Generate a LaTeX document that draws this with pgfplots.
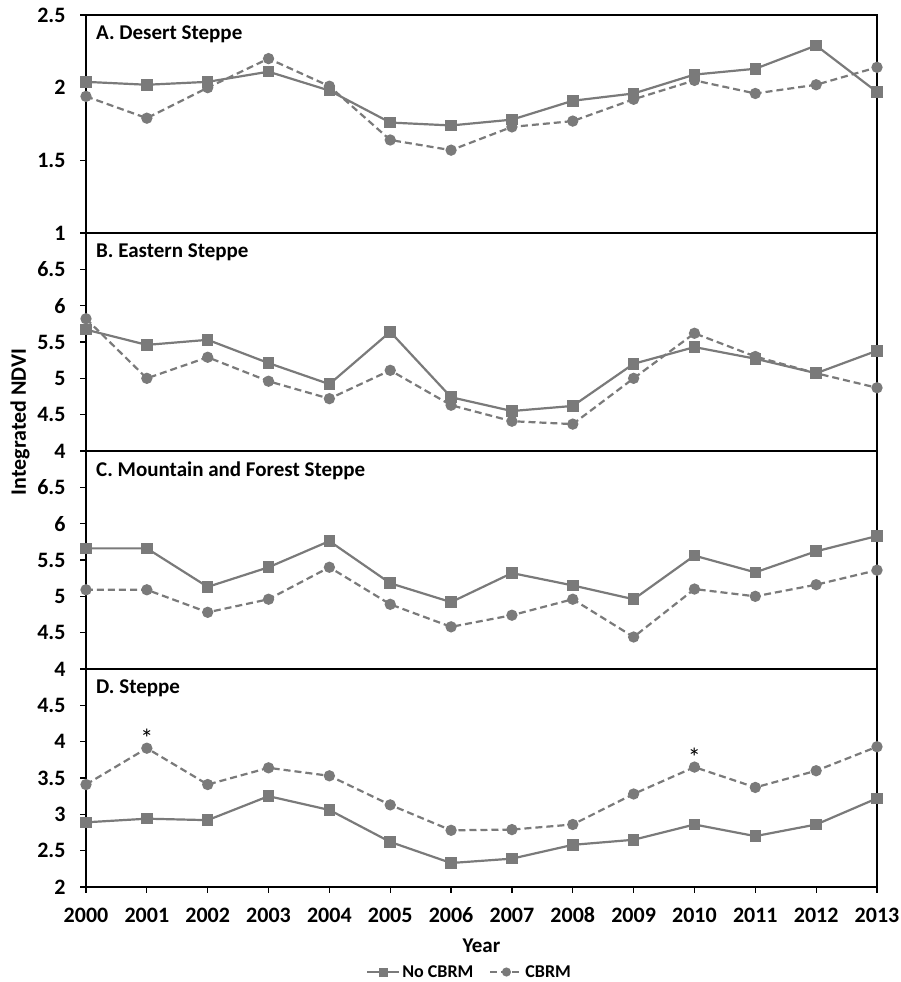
\documentclass[border=0pt]{standalone}
\usepackage{fontspec}
\setmainfont{Carlito}
\usepackage{pgfplots}
\pgfplotsset{compat=1.18}
\usepgfplotslibrary{groupplots}
\usetikzlibrary{calc}
\definecolor{ser}{RGB}{122,122,122}
\tikzset{ttl/.style={anchor=north west, inner sep=0pt, font=\bfseries\fontsize{21}{23}\selectfont}}
\pgfplotsset{
  panel/.style={
    width=791pt, height=218pt, scale only axis,
    xmin=2000, xmax=2013,
    axis line style={black, line width=1.3pt},
    tick style={black, line width=1.2pt},
    tick align=outside, major tick length=6pt,
    ytick pos=left, xtick pos=bottom,
    /pgf/number format/assume math mode=true,
    /pgf/number format/1000 sep={},
    tick label style={font=\bfseries\fontsize{22}{24}\selectfont},
    yticklabel style={xshift=-11pt},
    xticklabel style={text height=14pt, text depth=0pt, yshift=-12pt},
    clip=false,
  },
  noc/.style={color=ser, line width=2.2pt, mark=square*, mark size=4.7pt, mark options={solid}},
  cb/.style={color=ser, line width=2.2pt, dash pattern=on 7pt off 4pt, mark=*, mark size=4.5pt, mark options={solid}},
}
\begin{document}
\begin{tikzpicture}
\begin{groupplot}[group style={group size=1 by 4, vertical sep=0pt}, panel]
% A
\nextgroupplot[ymin=1, ymax=2.5, ytick={1,1.5,2,2.5}, xtick=\empty]
\coordinate (tl) at (rel axis cs:0,1);
\addplot[noc] coordinates {(2000,2.04) (2001,2.02) (2002,2.04) (2003,2.11) (2004,1.98) (2005,1.76) (2006,1.74) (2007,1.78) (2008,1.91) (2009,1.96) (2010,2.09) (2011,2.13) (2012,2.29) (2013,1.97)};
\addplot[cb] coordinates {(2000,1.94) (2001,1.79) (2002,2.00) (2003,2.20) (2004,2.01) (2005,1.64) (2006,1.57) (2007,1.73) (2008,1.77) (2009,1.92) (2010,2.05) (2011,1.96) (2012,2.02) (2013,2.14)};
\node[ttl] at ([xshift=10pt,yshift=-11pt]rel axis cs:0,1) {A. Desert Steppe};
% B
\nextgroupplot[ymin=4, ymax=7, ytick={4,4.5,5,5.5,6,6.5}, xtick=\empty]
\addplot[noc] coordinates {(2000,5.67) (2001,5.46) (2002,5.53) (2003,5.21) (2004,4.92) (2005,5.64) (2006,4.74) (2007,4.55) (2008,4.62) (2009,5.20) (2010,5.43) (2011,5.27) (2012,5.07) (2013,5.38)};
\addplot[cb] coordinates {(2000,5.82) (2001,5.00) (2002,5.29) (2003,4.96) (2004,4.72) (2005,5.11) (2006,4.63) (2007,4.41) (2008,4.37) (2009,5.00) (2010,5.62) (2011,5.30) (2012,5.07) (2013,4.87)};
\node[ttl] at ([xshift=10pt,yshift=-11pt]rel axis cs:0,1) {B. Eastern Steppe};
% C
\nextgroupplot[ymin=4, ymax=7, ytick={4,4.5,5,5.5,6,6.5}, xtick=\empty]
\addplot[noc] coordinates {(2000,5.66) (2001,5.66) (2002,5.13) (2003,5.40) (2004,5.76) (2005,5.18) (2006,4.92) (2007,5.32) (2008,5.15) (2009,4.96) (2010,5.56) (2011,5.33) (2012,5.62) (2013,5.83)};
\addplot[cb] coordinates {(2000,5.09) (2001,5.09) (2002,4.78) (2003,4.96) (2004,5.40) (2005,4.89) (2006,4.58) (2007,4.74) (2008,4.96) (2009,4.44) (2010,5.10) (2011,5.00) (2012,5.16) (2013,5.36)};
\node[ttl] at ([xshift=10pt,yshift=-11pt]rel axis cs:0,1) {C. Mountain and Forest Steppe};
% D
\nextgroupplot[ymin=2, ymax=5, ytick={2,2.5,3,3.5,4,4.5}, xtick={2000,2001,...,2013},
  xlabel={Year}, xlabel style={font=\bfseries\fontsize{21}{23}\selectfont, at={(axis description cs:0.5,-0.27)}, anchor=center},
  legend style={at={(0.485,-0.39)}, anchor=center, legend columns=2, draw=none, fill=none,
    font=\bfseries\fontsize{18}{20}\selectfont, inner sep=0pt,
    /tikz/every even column/.append style={column sep=14pt}},
  legend image code/.code={\draw[#1, line width=2pt, mark size=3.5pt, mark repeat=2, mark phase=2] plot coordinates {(0pt,0pt) (16pt,0pt) (32pt,0pt)};}]
\addplot[noc] coordinates {(2000,2.89) (2001,2.94) (2002,2.92) (2003,3.25) (2004,3.06) (2005,2.62) (2006,2.33) (2007,2.39) (2008,2.58) (2009,2.65) (2010,2.86) (2011,2.70) (2012,2.86) (2013,3.22)};
\addplot[cb] coordinates {(2000,3.41) (2001,3.91) (2002,3.41) (2003,3.64) (2004,3.53) (2005,3.13) (2006,2.78) (2007,2.79) (2008,2.86) (2009,3.28) (2010,3.65) (2011,3.37) (2012,3.60) (2013,3.93)};
\legend{No CBRM, CBRM}
\node[ttl] at ([xshift=10pt,yshift=-11pt]rel axis cs:0,1) {D. Steppe};
\node[font=\fontsize{26}{28}\selectfont, inner sep=0pt] at (axis cs:2001,4.04) {*};
\node[font=\fontsize{26}{28}\selectfont, inner sep=0pt] at (axis cs:2010,3.79) {*};
\end{groupplot}
\node[rotate=90, font=\bfseries\fontsize{22}{24}\selectfont] at ($(tl)+(-66pt,-407pt)$) {Integrated NDVI};
\pgfresetboundingbox
\path[use as bounding box] ($(tl)+(-86pt,15pt)$) rectangle ($(tl)+(815pt,-967pt)$);
\end{tikzpicture}
\end{document}
